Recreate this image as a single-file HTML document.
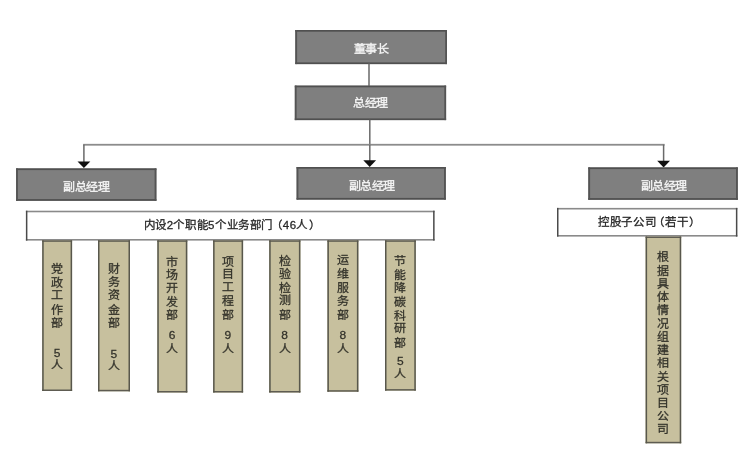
<!DOCTYPE html>
<html lang="zh-CN"><head><meta charset="utf-8"><title>org</title>
<style>
html,body{margin:0;padding:0;background:#fff;}
body{width:747px;height:459px;position:relative;overflow:hidden;font-family:"Liberation Sans",sans-serif;}
#c{position:absolute;left:0;top:0;width:747px;height:459px;filter:blur(0.6px);}
div{position:absolute;box-sizing:border-box;}
i{position:absolute;font-style:normal;line-height:20px;white-space:nowrap;transform-origin:0 0;}
.bg{background:#7f7f7f;border:2px solid #575757;}
.bw{background:#fff;border:1.5px solid #474747;}
.bt{background:#c7c09e;border:1.5px solid #5f5d4e;}
.g{font-size:12px;letter-spacing:-0.4px;transform:scaleY(0.92);color:#f6f6f6;-webkit-text-stroke:0.35px #f6f6f6;}
.w{font-size:11.5px;transform:scaleY(0.95);color:#262626;-webkit-text-stroke:0.28px #262626;}
.t{font-size:12px;transform:scaleY(0.9);color:#33322a;-webkit-text-stroke:0.28px #33322a;}
.ln{background:#6a6a6a;}
.ar{width:0;height:0;border-left:6.5px solid transparent;border-right:6.5px solid transparent;border-top:6.8px solid #111;}
</style></head><body><div id="c"><svg width="747" height="459" style="position:absolute;left:0;top:0">
<rect x="295.30" y="30.00" width="151.70" height="34.10" fill="#7f7f7f"/>
<rect x="295.30" y="30.00" width="151.70" height="1.7" fill="#505050"/>
<rect x="295.30" y="62.40" width="151.70" height="1.7" fill="#505050"/>
<rect x="295.30" y="30.00" width="1.8" height="34.10" fill="#545454"/>
<rect x="445.20" y="30.00" width="1.8" height="34.10" fill="#545454"/>
<rect x="368.25" y="63.5" width="1.5" height="22.5" fill="#6a6a6a"/>
<rect x="294.80" y="85.60" width="151.30" height="34.50" fill="#7f7f7f"/>
<rect x="294.80" y="85.60" width="151.30" height="1.7" fill="#505050"/>
<rect x="294.80" y="118.40" width="151.30" height="1.7" fill="#505050"/>
<rect x="294.80" y="85.60" width="1.8" height="34.50" fill="#545454"/>
<rect x="444.30" y="85.60" width="1.8" height="34.50" fill="#545454"/>
<rect x="369.05" y="119.8" width="1.5" height="25" fill="#6a6a6a"/>
<rect x="83.15" y="143.85" width="581.5" height="1.8" fill="#8c8c8c"/>
<rect x="83.15" y="144.6" width="1.5" height="18" fill="#6a6a6a"/>
<rect x="369.05" y="144.6" width="1.5" height="17" fill="#6a6a6a"/>
<rect x="662.85" y="144.6" width="1.5" height="18" fill="#6a6a6a"/>
<path d="M77.50 161.40H90.30L83.90 168.00Z" fill="#111"/>
<path d="M363.30 160.30H376.10L369.70 166.90Z" fill="#111"/>
<path d="M657.20 160.80H670.00L663.60 167.40Z" fill="#111"/>
<rect x="16.10" y="168.40" width="140.30" height="32.40" fill="#7f7f7f"/>
<rect x="16.10" y="168.40" width="140.30" height="1.7" fill="#505050"/>
<rect x="16.10" y="199.10" width="140.30" height="1.7" fill="#505050"/>
<rect x="16.10" y="168.40" width="1.8" height="32.40" fill="#545454"/>
<rect x="154.60" y="168.40" width="1.8" height="32.40" fill="#545454"/>
<rect x="296.60" y="167.00" width="149.20" height="32.60" fill="#7f7f7f"/>
<rect x="296.60" y="167.00" width="149.20" height="1.7" fill="#505050"/>
<rect x="296.60" y="197.90" width="149.20" height="1.7" fill="#505050"/>
<rect x="296.60" y="167.00" width="1.8" height="32.60" fill="#545454"/>
<rect x="444.00" y="167.00" width="1.8" height="32.60" fill="#545454"/>
<rect x="588.30" y="167.40" width="149.50" height="32.40" fill="#7f7f7f"/>
<rect x="588.30" y="167.40" width="149.50" height="1.7" fill="#505050"/>
<rect x="588.30" y="198.10" width="149.50" height="1.7" fill="#505050"/>
<rect x="588.30" y="167.40" width="1.8" height="32.40" fill="#545454"/>
<rect x="736.00" y="167.40" width="1.8" height="32.40" fill="#545454"/>
<rect x="25.90" y="210.70" width="408.70" height="29.90" fill="#fff"/>
<rect x="25.90" y="210.70" width="408.70" height="1.6" fill="#8a8a8a"/>
<rect x="25.90" y="239.00" width="408.70" height="1.6" fill="#8a8a8a"/>
<rect x="25.90" y="210.70" width="1.5" height="29.90" fill="#4a4a4a"/>
<rect x="433.10" y="210.70" width="1.5" height="29.90" fill="#4a4a4a"/>
<rect x="557.00" y="207.90" width="180.40" height="28.70" fill="#fff"/>
<rect x="557.00" y="207.90" width="180.40" height="1.6" fill="#8a8a8a"/>
<rect x="557.00" y="235.00" width="180.40" height="1.6" fill="#8a8a8a"/>
<rect x="557.00" y="207.90" width="1.5" height="28.70" fill="#4a4a4a"/>
<rect x="735.90" y="207.90" width="1.5" height="28.70" fill="#4a4a4a"/>
<rect x="42.20" y="240.30" width="29.90" height="150.70" fill="#c7c09e"/>
<rect x="42.20" y="240.30" width="29.90" height="1.5" fill="#5e5c52"/>
<rect x="42.20" y="389.50" width="29.90" height="1.5" fill="#5e5c52"/>
<rect x="42.20" y="240.30" width="1.5" height="150.70" fill="#58574c"/>
<rect x="70.60" y="240.30" width="1.5" height="150.70" fill="#58574c"/>
<rect x="98.00" y="240.30" width="32.00" height="151.00" fill="#c7c09e"/>
<rect x="98.00" y="240.30" width="32.00" height="1.5" fill="#5e5c52"/>
<rect x="98.00" y="389.80" width="32.00" height="1.5" fill="#5e5c52"/>
<rect x="98.00" y="240.30" width="1.5" height="151.00" fill="#58574c"/>
<rect x="128.50" y="240.30" width="1.5" height="151.00" fill="#58574c"/>
<rect x="157.30" y="240.30" width="30.00" height="152.20" fill="#c7c09e"/>
<rect x="157.30" y="240.30" width="30.00" height="1.5" fill="#5e5c52"/>
<rect x="157.30" y="391.00" width="30.00" height="1.5" fill="#5e5c52"/>
<rect x="157.30" y="240.30" width="1.5" height="152.20" fill="#58574c"/>
<rect x="185.80" y="240.30" width="1.5" height="152.20" fill="#58574c"/>
<rect x="213.10" y="240.30" width="30.00" height="152.20" fill="#c7c09e"/>
<rect x="213.10" y="240.30" width="30.00" height="1.5" fill="#5e5c52"/>
<rect x="213.10" y="391.00" width="30.00" height="1.5" fill="#5e5c52"/>
<rect x="213.10" y="240.30" width="1.5" height="152.20" fill="#58574c"/>
<rect x="241.60" y="240.30" width="1.5" height="152.20" fill="#58574c"/>
<rect x="269.20" y="240.30" width="31.20" height="152.20" fill="#c7c09e"/>
<rect x="269.20" y="240.30" width="31.20" height="1.5" fill="#5e5c52"/>
<rect x="269.20" y="391.00" width="31.20" height="1.5" fill="#5e5c52"/>
<rect x="269.20" y="240.30" width="1.5" height="152.20" fill="#58574c"/>
<rect x="298.90" y="240.30" width="1.5" height="152.20" fill="#58574c"/>
<rect x="327.40" y="240.30" width="31.00" height="151.40" fill="#c7c09e"/>
<rect x="327.40" y="240.30" width="31.00" height="1.5" fill="#5e5c52"/>
<rect x="327.40" y="390.20" width="31.00" height="1.5" fill="#5e5c52"/>
<rect x="327.40" y="240.30" width="1.5" height="151.40" fill="#58574c"/>
<rect x="356.90" y="240.30" width="1.5" height="151.40" fill="#58574c"/>
<rect x="385.00" y="240.30" width="30.80" height="150.30" fill="#c7c09e"/>
<rect x="385.00" y="240.30" width="30.80" height="1.5" fill="#5e5c52"/>
<rect x="385.00" y="389.10" width="30.80" height="1.5" fill="#5e5c52"/>
<rect x="385.00" y="240.30" width="1.5" height="150.30" fill="#58574c"/>
<rect x="414.30" y="240.30" width="1.5" height="150.30" fill="#58574c"/>
<rect x="645.60" y="236.50" width="35.60" height="206.80" fill="#c7c09e"/>
<rect x="645.60" y="236.50" width="35.60" height="1.5" fill="#5e5c52"/>
<rect x="645.60" y="441.80" width="35.60" height="1.5" fill="#5e5c52"/>
<rect x="645.60" y="236.50" width="1.5" height="206.80" fill="#58574c"/>
<rect x="679.70" y="236.50" width="1.5" height="206.80" fill="#58574c"/>
</svg>
<i class="g" style="left:353.50px;top:39.60px;">董事长</i>
<i class="g" style="left:353.20px;top:94.20px;">总经理</i>
<i class="g" style="left:63.00px;top:178.00px;">副总经理</i>
<i class="g" style="left:348.50px;top:176.70px;">副总经理</i>
<i class="g" style="left:640.50px;top:176.70px;">副总经理</i>
<i class="w" style="left:143.80px;top:216.20px;">内</i>
<i class="w" style="left:154.70px;top:216.20px;">设</i>
<i class="w" style="left:166.70px;top:216.20px;">2</i>
<i class="w" style="left:173.10px;top:216.20px;">个</i>
<i class="w" style="left:185.40px;top:216.20px;">职</i>
<i class="w" style="left:196.70px;top:216.20px;">能</i>
<i class="w" style="left:207.90px;top:216.20px;">5</i>
<i class="w" style="left:215.10px;top:216.20px;">个</i>
<i class="w" style="left:226.80px;top:216.20px;">业</i>
<i class="w" style="left:238.20px;top:216.20px;">务</i>
<i class="w" style="left:249.50px;top:216.20px;">部</i>
<i class="w" style="left:260.70px;top:216.20px;">门</i>
<i class="w" style="left:270.50px;top:216.20px;">（</i>
<i class="w" style="left:282.80px;top:216.20px;">4</i>
<i class="w" style="left:289.70px;top:216.20px;">6</i>
<i class="w" style="left:295.90px;top:216.20px;">人</i>
<i class="w" style="left:308.60px;top:216.20px;">）</i>
<i class="w" style="left:598.10px;top:213.00px;">控</i>
<i class="w" style="left:609.80px;top:213.00px;">股</i>
<i class="w" style="left:621.40px;top:213.00px;">子</i>
<i class="w" style="left:633.10px;top:213.00px;">公</i>
<i class="w" style="left:644.70px;top:213.00px;">司</i>
<i class="w" style="left:653.00px;top:213.00px;">（</i>
<i class="w" style="left:665.40px;top:213.00px;">若</i>
<i class="w" style="left:677.00px;top:213.00px;">干</i>
<i class="w" style="left:689.10px;top:213.00px;">）</i>
<i class="t" style="left:51.15px;top:259.60px;">党</i>
<i class="t" style="left:51.15px;top:273.95px;">政</i>
<i class="t" style="left:51.15px;top:286.30px;">工</i>
<i class="t" style="left:51.15px;top:300.65px;">作</i>
<i class="t" style="left:51.15px;top:314.00px;">部</i>
<i class="t" style="left:53.65px;top:343.80px;">5</i>
<i class="t" style="left:51.15px;top:355.50px;">人</i>
<i class="t" style="left:108.00px;top:259.70px;">财</i>
<i class="t" style="left:108.00px;top:273.30px;">务</i>
<i class="t" style="left:108.00px;top:285.90px;">资</i>
<i class="t" style="left:108.00px;top:300.50px;">金</i>
<i class="t" style="left:108.00px;top:314.10px;">部</i>
<i class="t" style="left:110.50px;top:344.70px;">5</i>
<i class="t" style="left:108.00px;top:356.70px;">人</i>
<i class="t" style="left:166.30px;top:252.80px;">市</i>
<i class="t" style="left:166.30px;top:266.20px;">场</i>
<i class="t" style="left:166.30px;top:278.60px;">开</i>
<i class="t" style="left:166.30px;top:293.00px;">发</i>
<i class="t" style="left:166.30px;top:306.40px;">部</i>
<i class="t" style="left:168.80px;top:325.60px;">6</i>
<i class="t" style="left:166.30px;top:339.50px;">人</i>
<i class="t" style="left:222.10px;top:252.80px;">项</i>
<i class="t" style="left:222.10px;top:265.00px;">目</i>
<i class="t" style="left:222.10px;top:278.20px;">工</i>
<i class="t" style="left:222.10px;top:292.40px;">程</i>
<i class="t" style="left:222.10px;top:305.60px;">部</i>
<i class="t" style="left:224.60px;top:326.40px;">9</i>
<i class="t" style="left:222.10px;top:339.50px;">人</i>
<i class="t" style="left:278.80px;top:251.90px;">检</i>
<i class="t" style="left:278.80px;top:265.30px;">验</i>
<i class="t" style="left:278.80px;top:278.70px;">检</i>
<i class="t" style="left:278.80px;top:291.10px;">测</i>
<i class="t" style="left:278.80px;top:305.50px;">部</i>
<i class="t" style="left:281.30px;top:325.80px;">8</i>
<i class="t" style="left:278.80px;top:339.50px;">人</i>
<i class="t" style="left:336.90px;top:251.00px;">运</i>
<i class="t" style="left:336.90px;top:265.40px;">维</i>
<i class="t" style="left:336.90px;top:278.80px;">服</i>
<i class="t" style="left:336.90px;top:292.20px;">务</i>
<i class="t" style="left:336.90px;top:305.60px;">部</i>
<i class="t" style="left:339.40px;top:325.80px;">8</i>
<i class="t" style="left:336.90px;top:339.50px;">人</i>
<i class="t" style="left:394.40px;top:252.10px;">节</i>
<i class="t" style="left:393.90px;top:265.70px;">能</i>
<i class="t" style="left:394.40px;top:279.30px;">降</i>
<i class="t" style="left:394.40px;top:292.90px;">碳</i>
<i class="t" style="left:394.40px;top:306.50px;">科</i>
<i class="t" style="left:394.40px;top:319.10px;">研</i>
<i class="t" style="left:394.40px;top:333.70px;">部</i>
<i class="t" style="left:396.90px;top:352.40px;">5</i>
<i class="t" style="left:394.40px;top:364.90px;">人</i>
<i class="t" style="left:657.40px;top:248.20px;">根</i>
<i class="t" style="left:657.40px;top:261.52px;">据</i>
<i class="t" style="left:657.40px;top:274.84px;">具</i>
<i class="t" style="left:657.40px;top:288.16px;">体</i>
<i class="t" style="left:657.40px;top:301.48px;">情</i>
<i class="t" style="left:657.40px;top:314.80px;">况</i>
<i class="t" style="left:657.40px;top:328.12px;">组</i>
<i class="t" style="left:657.40px;top:341.44px;">建</i>
<i class="t" style="left:657.40px;top:353.76px;">相</i>
<i class="t" style="left:657.40px;top:368.08px;">关</i>
<i class="t" style="left:657.40px;top:381.40px;">项</i>
<i class="t" style="left:657.40px;top:393.72px;">目</i>
<i class="t" style="left:657.40px;top:407.04px;">公</i>
<i class="t" style="left:657.40px;top:420.36px;">司</i>
</div></body></html>
